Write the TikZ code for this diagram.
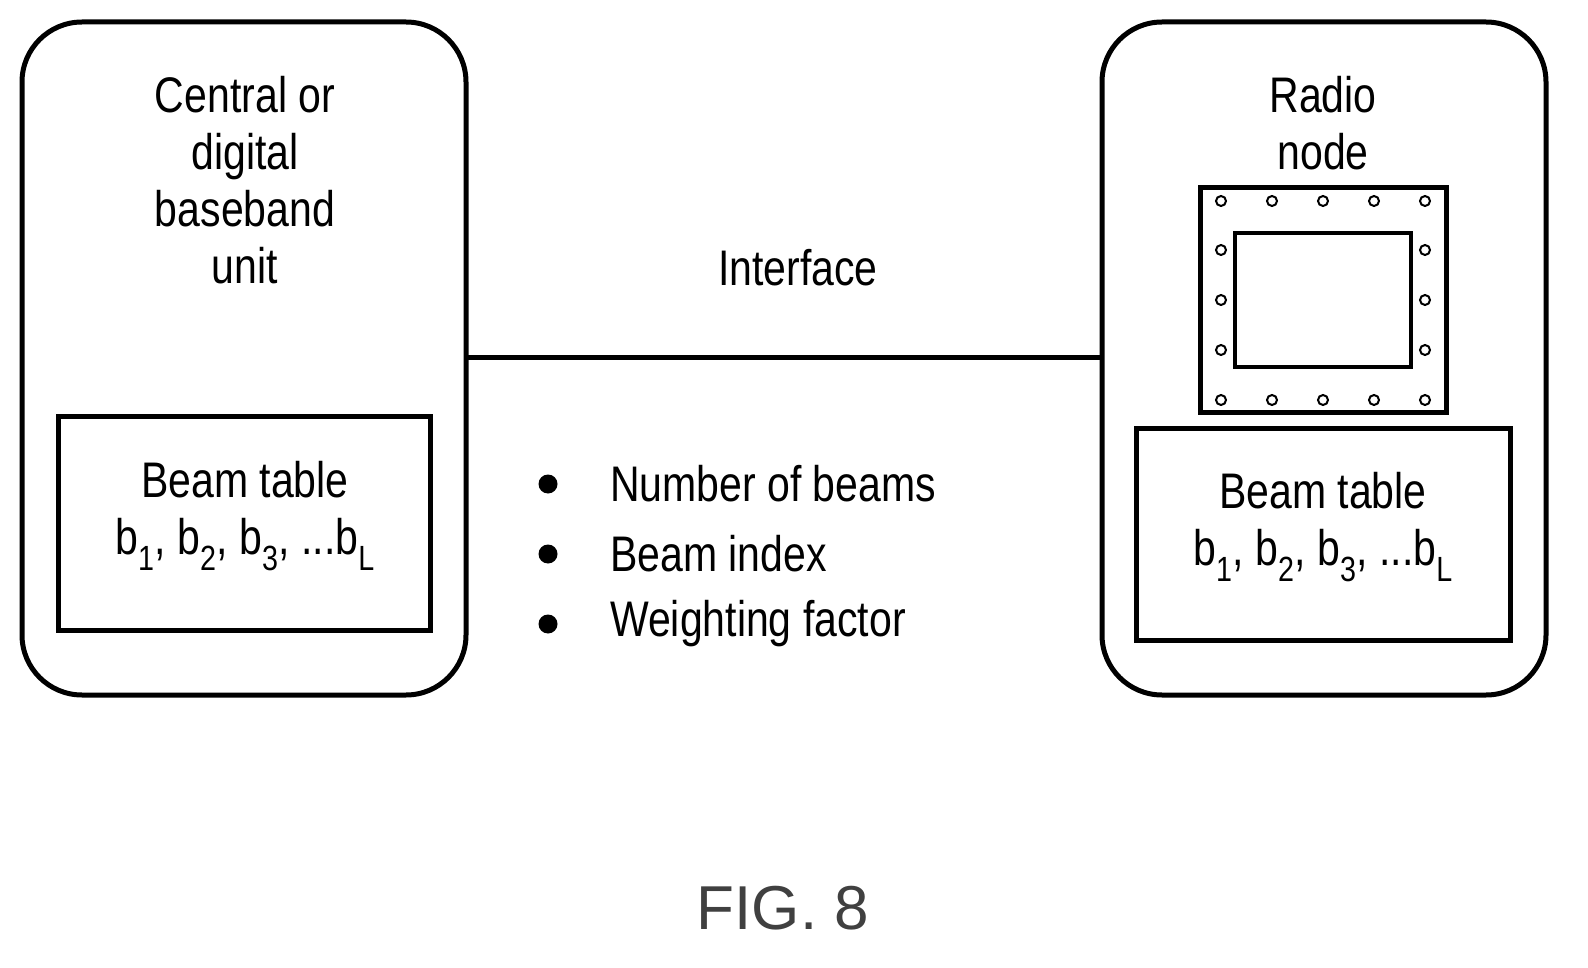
\documentclass[tikz,border=0pt]{standalone}
\usepackage{fontspec}
\setmainfont{Liberation Sans}[FakeStretch=0.82]
\newfontfamily\figfont{Liberation Sans}
\begin{document}
\begin{tikzpicture}[x=1pt,y=-1pt,
  outer/.style={draw,line width=5pt,rounded corners=60pt},
  inner/.style={draw,line width=5pt},
  txt/.style={font=\fontsize{50}{57}\selectfont,align=center},
  dot/.style={draw,line width=2pt,circle,inner sep=0pt,minimum size=10pt},
  bul/.style={fill,circle,inner sep=0pt,minimum size=19pt}]
\useasboundingbox (0,0) rectangle (1588,968);
\draw[outer] (22,22) rectangle (466,695);
\draw[inner] (58,416) rectangle (430,630);
\draw[outer] (1102,22) rectangle (1546,695);
\draw[inner] (1136,428) rectangle (1510,640);
\coordinate (L) at (466,358); \coordinate (R) at (1102,358);
\draw[line width=5pt] (L) -- (R);
\node[txt] (cu) at (245,180) {Central or\\digital\\baseband\\unit};
\node[txt] (bt1) at (245,516) {Beam table\\b\textsubscript{1}, b\textsubscript{2}, b\textsubscript{3}, ...b\textsubscript{L}};
\node[txt] (bt2) at (1323,527) {Beam table\\b\textsubscript{1}, b\textsubscript{2}, b\textsubscript{3}, ...b\textsubscript{L}};
\node[txt] (rn) at (1323,123) {Radio\\node};
\node[txt] (if) at (798,268) {Interface};
\draw[inner] (1200,188) rectangle (1446,412);
\draw[line width=4pt] (1235,233) rectangle (1411,367);
\foreach \x in {1221,1272,1323,1374,1425}{\node[dot] at (\x,201){}; \node[dot] at (\x,400){};}
\foreach \y in {250,300,350}{\node[dot] at (1221,\y){}; \node[dot] at (1425,\y){};}
\foreach \y/\t in {484/Number of beams,554/Beam index,624/Weighting factor}{
  \node[bul] at (548,\y){};
  \node[txt,anchor=west,inner sep=0pt] at (610,\y) {\t};}
\node[font=\figfont\fontsize{62}{70}\selectfont,text=black!75] (fig) at (783,908) {FIG. 8};
\end{tikzpicture}
\end{document}
